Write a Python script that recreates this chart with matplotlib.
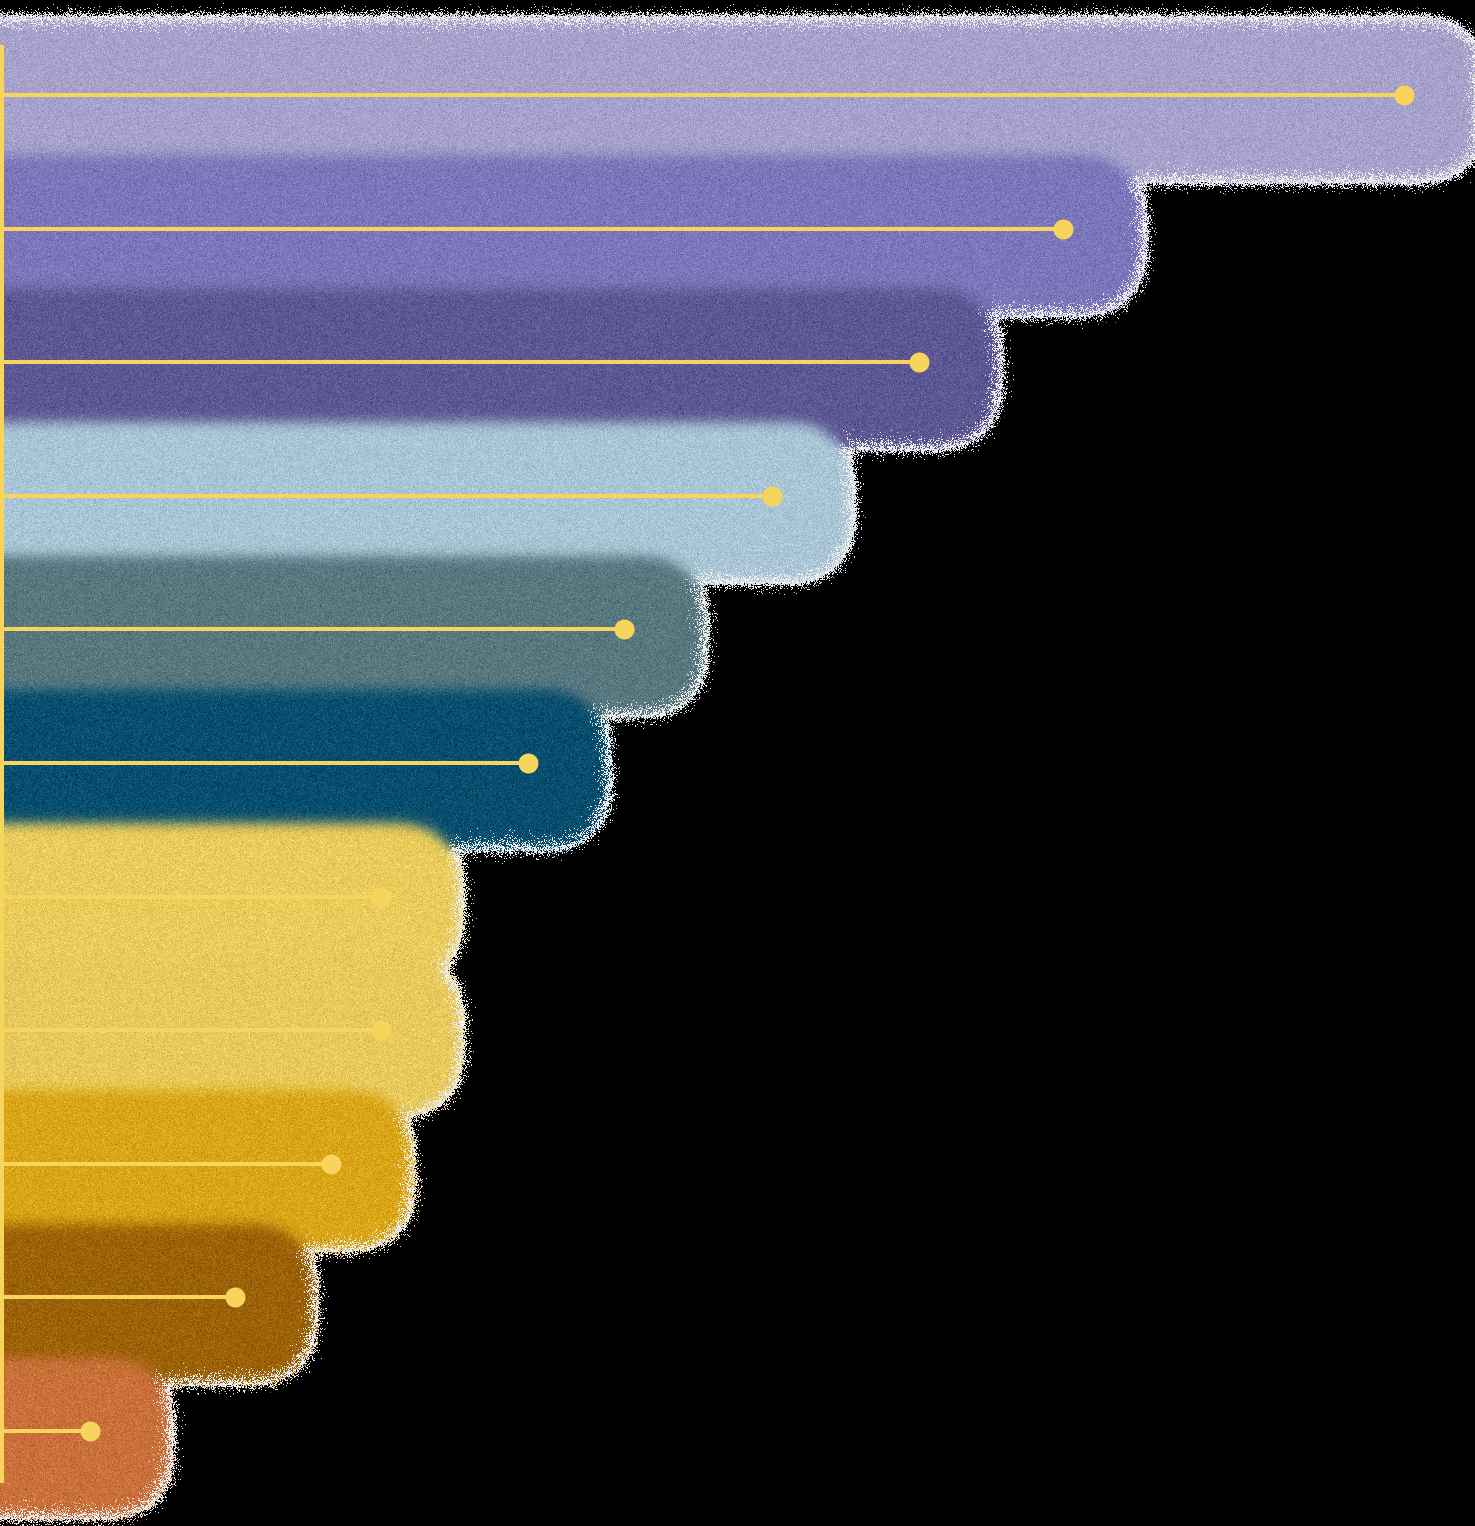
import numpy as np
import matplotlib
matplotlib.use("Agg")
import matplotlib.pyplot as plt
from matplotlib.patches import FancyBboxPatch
from matplotlib.collections import PatchCollection

# data (first bar = 100)
values = [100.0, 75.7, 65.4, 54.9, 44.4, 37.5, 27.0, 27.0, 23.5, 16.6, 6.3]
colors = ["#a6a2cc", "#7c76ba", "#5d5894", "#aac6d6", "#587880", "#084e6e",
          "#eacc5c", "#e8ca5c", "#daa516", "#9c6208", "#ca703a"]
line_color = "#f7d45b"

# layout (pixels at dpi 100)
W, H, DPI = 1475, 1526, 100
px_x = 14.02          # pixels per value unit
px_y = 133.6          # pixels per row
bar_pad = 78 / px_x   # bar runs past the dot
radius = 65 / px_x
SIGMA = 6             # blur in pixels

rows = np.arange(len(values))


def blur(arr, sigma):
    r = int(3 * sigma)
    k = np.exp(-0.5 * (np.arange(-r, r + 1) / sigma) ** 2)
    k /= k.sum()
    # vertical
    p = np.pad(arr, ((r, r), (0, 0), (0, 0)), mode="edge")
    n = arr.shape[0]
    out = np.zeros_like(arr)
    for i, w in enumerate(k):
        out += w * p[i:i + n]
    arr = out
    # horizontal
    p = np.pad(arr, ((0, 0), (r, r), (0, 0)), mode="edge")
    n = arr.shape[1]
    out = np.zeros_like(arr)
    for i, w in enumerate(k):
        out += w * p[:, i:i + n]
    return out


def grain_filter(img, dpi):
    pad = int(4 * SIGMA)
    a = img[..., 3:4]
    pm = np.concatenate([img[..., :3] * a, a], axis=-1)
    pm = np.pad(pm, ((pad, pad), (pad, pad), (0, 0)))
    # bars continue past the left edge of the canvas
    pm[:, :pad] = pm[:, pad:pad + 1]
    pm = blur(pm, SIGMA)

    rng = np.random.default_rng(3)
    a = np.clip(pm[..., 3], 0, 1)
    col = np.clip(pm[..., :3] / np.maximum(a, 1e-4)[..., None], 0, 1)
    col = np.clip(col + rng.normal(0, 0.04, a.shape)[..., None], 0, 1)

    u = rng.random(a.shape)
    edge = 4 * a * (1 - a)
    inside = u < a
    white = (~inside) & (u < a + 1.1 * edge)

    out = np.zeros_like(pm)
    out[..., :3] = col
    wv = 0.85 + 0.15 * rng.random(a.shape)
    out[white, 0] = wv[white]
    out[white, 1] = wv[white]
    out[white, 2] = wv[white]
    out[..., 3] = (inside | white).astype(float)
    return np.clip(out, 0, 1), -pad, -pad


fig = plt.figure(figsize=(W / DPI, H / DPI), dpi=DPI, facecolor="black")
ax = fig.add_axes([0, 0, 1, 1])
ax.set_facecolor("black")
ax.set_xlim(-2 / px_x, (W - 2) / px_x)
ax.set_ylim((H - 95) / px_y, -95 / px_y)
ax.axis("off")

bars = []
for r, v, c in zip(rows, values, colors):
    left = -6.0
    top = r - 0.55
    bars.append(FancyBboxPatch((left, top), v + bar_pad - left, 1.17,
                               boxstyle=f"round,pad=0,rounding_size={radius}",
                               mutation_aspect=px_x / px_y,
                               facecolor=c, edgecolor="none"))
coll = PatchCollection(bars, match_original=True, zorder=1)
coll.set_agg_filter(grain_filter)
ax.add_collection(coll)

ax.hlines(rows, 0, values, color=line_color, lw=2.9, zorder=3)
ax.plot(values, rows, "o", color=line_color, ms=14.4, mec="none", zorder=4)
ax.vlines(0, -0.374, rows[-1] + 0.39, color=line_color, lw=2.9, zorder=3)

fig.savefig("out.png", dpi=DPI, facecolor="black")
